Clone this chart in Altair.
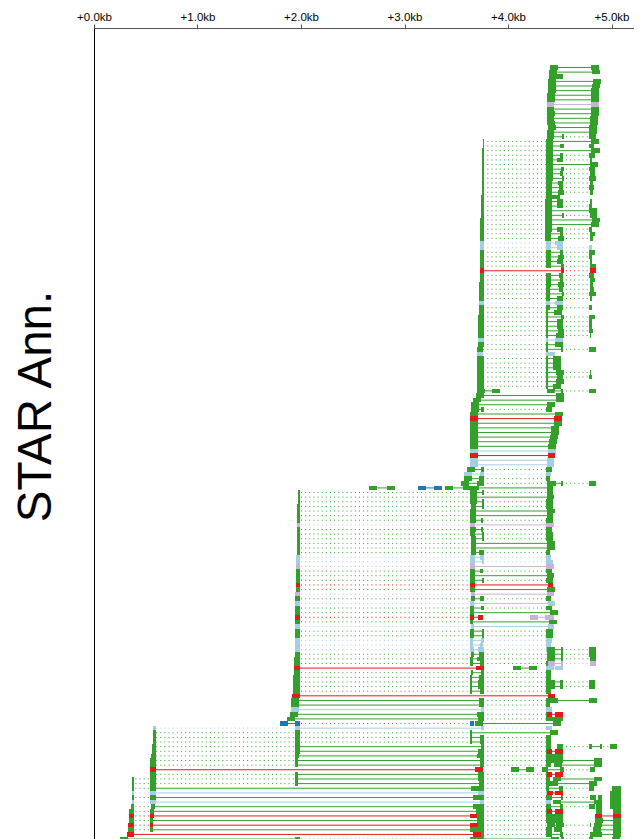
import math
import altair as alt
import pandas as pd

# (row, kind, intron styles, exon start/end pairs in kb)
reads_top = [
 (0,"g","s",[4.400,4.478,4.797,4.874]),(1,"g","s",[4.391,4.468,4.807,4.884]),(2,"g","",[4.391,4.526]),
 (3,"g","s",[4.381,4.458,4.816,4.894]),(4,"g","s",[4.381,4.458,4.807,4.884]),(5,"g","s",[4.381,4.458,4.797,4.874]),
 (6,"g","s",[4.371,4.449,4.797,4.874]),(7,"g","s",[4.371,4.449,4.797,4.874]),(8,"p","s",[4.371,4.439,4.797,4.874]),
 (9,"g","s",[4.371,4.439,4.797,4.874]),(10,"g","s",[4.371,4.449,4.797,4.874]),(11,"g","s",[4.371,4.439,4.787,4.865]),
 (12,"g","s",[4.371,4.449,4.787,4.865]),(13,"g","s",[4.381,4.458,4.778,4.855]),(14,"g","s",[4.371,4.439,4.778,4.855]),
 (15,"g","sd",[4.371,4.439,4.516,4.536,4.778,4.845]),(16,"g","ds",[3.752,3.762,4.362,4.429,4.797,4.874]),
 (17,"g","dsn",[3.752,3.762,4.362,4.429,4.497,4.536,4.778,4.826]),(18,"g","ds",[3.743,3.762,4.362,4.429,4.797,4.884]),
 (19,"g","dsd",[3.743,3.762,4.362,4.429,4.497,4.526,4.778,4.836]),(20,"g","dsd",[3.743,3.762,4.362,4.429,4.468,4.526,4.787,4.807]),
 (21,"g","ds",[3.743,3.762,4.362,4.429,4.787,4.865]),(22,"g","dsd",[3.743,3.762,4.362,4.429,4.507,4.536,4.778,4.836]),
 (23,"g","dsd",[3.743,3.762,4.362,4.429,4.497,4.526,4.787,4.836]),(24,"g","dsd",[3.743,3.762,4.362,4.429,4.516,4.536,4.778,4.845]),
 (25,"g","dsd",[3.743,3.762,4.362,4.420,4.478,4.526,4.787,4.816]),(26,"g","dsd",[3.743,3.762,4.362,4.420,4.487,4.526,4.778,4.826]),
 (27,"g","dsd",[3.743,3.762,4.362,4.420,4.478,4.536,4.787,4.816]),(28,"g","d",[3.733,3.762,4.362,4.497]),
 (29,"g","dsd",[3.733,3.762,4.352,4.420,4.468,4.526,4.787,4.807]),(30,"g","dsd",[3.733,3.762,4.352,4.420,4.468,4.526,4.778,4.807]),
 (31,"g","ds",[3.733,3.762,4.352,4.420,4.778,4.855]),(32,"g","dsd",[3.733,3.762,4.352,4.420,4.516,4.536,4.787,4.855]),
 (33,"g","ds",[3.723,3.762,4.352,4.420,4.807,4.884]),(34,"g","ds",[3.723,3.762,4.352,4.420,4.797,4.874]),
 (35,"g","dsd",[3.723,3.762,4.352,4.420,4.468,4.526,4.778,4.807]),(36,"g","dsd",[3.723,3.762,4.352,4.410,4.497,4.526,4.787,4.836]),
 (37,"g","dsd",[3.723,3.762,4.352,4.410,4.478,4.536,4.787,4.816]),(38,"b","ds",[3.723,3.762,4.362,4.410,4.449,4.526]),
 (39,"b","dsd",[3.723,3.762,4.362,4.410,4.468,4.526,4.778,4.807]),
]
reads_upper = [
 (40,"g","dsd",[3.723,3.762,4.362,4.410,4.497,4.526,4.778,4.836]),(41,"g","dsd",[3.723,3.762,4.362,4.410,4.478,4.536,4.778,4.807]),
 (42,"g","dsd",[3.723,3.762,4.362,4.410,4.468,4.526,4.787,4.807]),(43,"g","dsd",[3.723,3.762,4.362,4.410,4.507,4.536,4.787,4.845]),
 (44,"r","sd",[3.723,3.762,4.507,4.536,4.787,4.845]),(45,"g","dsd",[3.723,3.762,4.362,4.410,4.487,4.526,4.778,4.826]),
 (46,"g","dsd",[3.723,3.762,4.362,4.410,4.497,4.526,4.787,4.836]),(47,"g","dsd",[3.714,3.762,4.362,4.410,4.478,4.536,4.787,4.816]),
 (48,"g","dsd",[3.714,3.762,4.362,4.400,4.487,4.526,4.787,4.826]),(49,"g","dsd",[3.714,3.762,4.362,4.400,4.516,4.536,4.778,4.845]),
 (50,"g","dsd",[3.714,3.762,4.362,4.400,4.468,4.526,4.787,4.807]),(51,"b","ds",[3.714,3.762,4.362,4.400,4.449,4.526]),
 (52,"g","dsd",[3.714,3.762,4.362,4.400,4.468,4.526,4.778,4.807]),(53,"g","ds",[3.714,3.762,4.362,4.381,4.439,4.516]),
 (54,"g","dsd",[3.704,3.762,4.362,4.381,4.507,4.536,4.778,4.836]),(55,"g","dsd",[3.704,3.762,4.362,4.381,4.468,4.526,4.778,4.807]),
 (56,"g","dsd",[3.704,3.762,4.362,4.381,4.468,4.526,4.778,4.807]),(57,"g","dsd",[3.704,3.762,4.362,4.381,4.478,4.536,4.778,4.816]),
 (58,"g","dsd",[3.704,3.762,4.362,4.381,4.458,4.536,4.787,4.797]),(59,"b","ds",[3.704,3.762,4.362,4.381,4.449,4.526]),
 (60,"g","ds",[3.704,3.762,4.362,4.381,4.449,4.526]),(61,"g","dsd",[3.694,3.752,4.362,4.381,4.507,4.526,4.778,4.845]),
 (62,"b","d",[3.694,3.752,4.362,4.449]),(63,"g","ds",[3.694,3.762,4.362,4.381,4.429,4.507]),
 (64,"g","ds",[3.694,3.762,4.362,4.381,4.429,4.507]),(65,"g","ds",[3.694,3.762,4.362,4.381,4.429,4.507]),
 (66,"g","dsd",[3.694,3.762,4.362,4.381,4.458,4.536,4.787,4.797]),(67,"g","dsd",[3.694,3.762,4.362,4.381,4.468,4.526,4.778,4.807]),
 (68,"g","ds",[3.694,3.762,4.362,4.381,4.458,4.536]),(69,"g","ds",[3.694,3.762,4.362,4.381,4.429,4.507]),
 (70,"g","snsd",[3.694,3.772,3.839,3.917,4.371,4.449,4.507,4.526,4.778,4.845]),(71,"g","s",[3.685,3.762,4.458,4.536]),
 (72,"g","s",[3.656,3.733,4.458,4.536]),(73,"g","s",[3.636,3.714,4.371,4.449]),(74,"g","sd",[3.636,3.714,3.733,3.762,4.362,4.420]),
 (75,"g","s",[3.627,3.704,4.449,4.526]),(76,"r","s",[3.627,3.704,4.439,4.516]),(77,"g","s",[3.627,3.704,4.439,4.516]),
 (78,"g","s",[3.627,3.704,4.410,4.487]),(79,"g","s",[3.627,3.704,4.410,4.487]),(80,"g","s",[3.627,3.704,4.400,4.478]),
 (81,"g","s",[3.627,3.704,4.391,4.468]),(82,"g","s",[3.627,3.704,4.381,4.458]),(83,"b","s",[3.627,3.704,4.381,4.458]),
]
reads_middle = [
 (84,"r","s",[3.627,3.704,4.381,4.449]),(85,"b","s",[3.627,3.704,4.371,4.439]),(86,"b","s",[3.627,3.704,4.371,4.439]),
 (87,"g","sd",[3.598,3.675,3.733,3.762,4.362,4.420]),(88,"b","sd",[3.568,3.646,3.723,3.762,4.362,4.410]),
 (89,"g","sd",[3.568,3.646,3.714,3.762,4.362,4.400]),(90,"g","sdsd",[3.539,3.617,3.694,3.762,4.371,4.458,4.507,4.526,4.778,4.845]),
 (91,"g","s",[2.650,2.727,2.824,2.901]),(91,"d","s",[3.124,3.201,3.279,3.356]),(91,"g","ss",[3.385,3.462,3.559,3.714,4.371,4.429]),
 (92,"g","dsd",[1.963,1.983,3.627,3.694,3.743,3.762,4.371,4.429]),(93,"g","ds",[1.963,1.983,3.627,3.694,4.371,4.439]),
 (94,"g","dsd",[1.963,1.983,3.627,3.694,3.743,3.762,4.362,4.429]),(95,"g","dsd",[1.954,1.983,3.636,3.685,3.743,3.762,4.362,4.429]),
 (96,"g","ds",[1.954,1.983,3.627,3.685,4.371,4.449]),(97,"g","ds",[1.954,1.983,3.627,3.685,4.371,4.429]),
 (98,"g","dsd",[1.954,1.983,3.627,3.685,3.733,3.752,4.362,4.429]),(99,"p","ds",[1.954,1.983,3.627,3.675,4.362,4.439]),
 (100,"g","dsd",[1.954,1.983,3.627,3.685,3.733,3.752,4.362,4.420]),(101,"g","dsd",[1.954,1.983,3.627,3.675,3.743,3.762,4.362,4.429]),
 (102,"g","dsd",[1.954,1.983,3.636,3.685,3.743,3.762,4.362,4.429]),(103,"g","ds",[1.954,1.983,3.636,3.685,4.371,4.449]),
 (104,"g","ds",[1.954,1.983,3.636,3.685,4.371,4.449]),(105,"g","dsd",[1.954,1.983,3.636,3.685,3.714,3.762,4.362,4.400]),
 (106,"b","dsd",[1.944,1.983,3.627,3.675,3.723,3.762,4.362,4.410]),(107,"b","dsd",[1.944,1.983,3.627,3.675,3.743,3.762,4.362,4.429]),
 (108,"p","ds",[1.944,1.983,3.627,3.675,4.362,4.439]),(109,"g","dsd",[1.944,1.983,3.627,3.675,3.723,3.752,4.362,4.420]),
 (110,"g","ds",[1.944,1.983,3.627,3.675,4.371,4.439]),(111,"g","dsd",[1.944,1.983,3.627,3.675,3.743,3.762,4.362,4.429]),
 (112,"r","ds",[1.944,1.983,3.627,3.675,4.381,4.429]),(113,"g","ds",[1.944,1.983,3.627,3.675,4.371,4.449]),
 (114,"p","ds",[1.934,1.983,3.636,3.675,4.371,4.439]),(115,"g","dsd",[1.934,1.983,3.636,3.675,3.723,3.762,4.362,4.410]),
 (116,"b","ds",[1.934,1.983,3.627,3.665,4.381,4.449]),(117,"g","dsd",[1.934,1.983,3.627,3.665,3.733,3.762,4.362,4.420]),
 (118,"g","ds",[1.934,1.983,3.627,3.665,4.400,4.478]),(119,"r","ds",[1.934,1.983,3.627,3.665,3.704,3.752]),(119,"p","s",[4.207,4.284,4.352,4.439]),
 (120,"g","ds",[1.934,1.983,3.627,3.656,4.391,4.468]),(121,"b","ds",[1.934,1.983,3.636,3.665,4.381,4.439]),
 (122,"g","dsd",[1.934,1.983,3.627,3.665,3.743,3.762,4.362,4.429]),(123,"g","dsd",[1.934,1.983,3.627,3.665,3.743,3.762,4.362,4.429]),
 (124,"b","dsd",[1.934,1.983,3.627,3.656,3.733,3.762,4.362,4.420]),(125,"b","dsd",[1.934,1.983,3.627,3.656,3.723,3.752,4.362,4.410]),
]
reads_lower = [
 (126,"b","dsd",[1.934,1.983,3.627,3.665,3.704,3.762,4.362,4.371]),(126,"g","sd",[4.371,4.449,4.507,4.526,4.778,4.845]),
 (127,"g","dsdsd",[1.934,1.983,3.636,3.665,3.714,3.762,4.371,4.449,4.507,4.526,4.778,4.845]),
 (128,"g","dsdsd",[1.925,1.983,3.627,3.656,3.694,3.762,4.371,4.449,4.507,4.526,4.787,4.845]),
 (129,"g","dsd",[1.925,1.983,3.627,3.656,3.723,3.762,4.362,4.381]),(129,"p","sd",[4.381,4.449,4.507,4.526,4.787,4.845]),
 (130,"r","s",[1.925,1.983,3.685,3.762]),(130,"g","s",[4.043,4.120,4.197,4.275]),(130,"b","s",[4.362,4.439,4.449,4.526]),
 (131,"g","dsd",[1.925,1.983,3.636,3.656,3.733,3.762,4.362,4.410]),(132,"g","dsd",[1.915,1.983,3.627,3.646,3.714,3.762,4.362,4.410]),
 (133,"g","dsdsd",[1.915,1.983,3.627,3.646,3.704,3.762,4.362,4.449,4.497,4.526,4.778,4.836]),
 (134,"g","dsdsd",[1.915,1.983,3.627,3.646,3.704,3.762,4.362,4.449,4.497,4.526,4.778,4.836]),
 (135,"g","dsd",[1.915,1.983,3.627,3.646,3.723,3.762,4.362,4.410]),(136,"r","s",[1.905,1.983,4.381,4.449]),
 (137,"g","sds",[1.895,1.973,3.714,3.762,4.362,4.478,4.778,4.855]),(138,"g","sd",[1.895,1.973,3.714,3.762,4.362,4.400]),
 (139,"b","sd",[1.895,1.973,3.733,3.762,4.362,4.420]),(140,"g","sd",[1.886,1.963,3.694,3.762,4.362,4.371]),(140,"r","s",[4.371,4.420,4.449,4.526]),
 (141,"g","sd",[1.857,1.934,3.704,3.762,4.362,4.526]),(142,"d","sd",[1.789,1.866,1.934,1.983,3.627,3.665]),(142,"g","s",[3.675,3.752,4.429,4.507]),
 (143,"b","dsd",[0.561,0.590,1.934,1.983,3.733,3.762,4.362,4.420]),(144,"g","dds",[0.561,0.590,1.934,1.983,3.627,3.646,4.400,4.478]),
 (145,"g","ddsd",[0.561,0.590,1.934,1.983,3.627,3.646,3.723,3.762,4.362,4.410]),(146,"g","ddsd",[0.561,0.590,1.934,1.983,3.627,3.646,3.723,3.762,4.362,4.410]),
 (147,"g","dsdndsd",[0.551,0.590,1.934,1.983,3.733,3.762,4.362,4.410,4.468,4.526,4.778,4.807,4.884,4.903,4.981,5.048]),
 (148,"g","dsd",[0.551,0.590,1.934,1.983,3.704,3.762,4.362,4.371]),(148,"r","s",[4.371,4.420,4.449,4.526]),
 (149,"g","dsd",[0.542,0.590,1.934,1.973,3.694,3.762,4.362,4.526]),
 (150,"g","dsds",[0.532,0.590,1.934,1.963,3.723,3.762,4.362,4.526,4.826,4.903]),
 (151,"g","dsdns",[0.532,0.590,1.934,1.963,3.723,3.762,4.362,4.410,4.439,4.516,4.826,4.903]),
 (152,"r","s",[0.532,0.590,3.675,3.752]),(152,"g","s",[4.023,4.101,4.168,4.246]),(152,"g","sd",[4.323,4.381,4.497,4.536,4.787,4.836]),
 (153,"g","dsd",[0.532,0.590,1.934,1.963,3.704,3.762,4.362,4.371]),(153,"r","s",[4.371,4.420,4.449,4.526]),
 (154,"g","ddsdns",[0.358,0.377,0.532,0.590,1.934,1.963,3.704,3.762,4.362,4.400,4.429,4.507,4.826,4.903]),
 (155,"g","ddsds",[0.358,0.377,0.532,0.590,1.934,1.963,3.714,3.762,4.362,4.478,4.778,4.855]),
 (156,"g","dsdsdn",[0.358,0.377,0.532,0.590,3.636,3.762,4.362,4.391,4.487,4.526,4.778,4.826,5.000,5.087]),
 (157,"b","dsd",[0.358,0.377,0.532,0.590,3.704,3.762,4.362,4.371]),(157,"r","s",[4.371,4.429,4.449,4.526]),(157,"g","",[4.981,5.087]),
 (158,"g","dsdsdnn",[0.358,0.377,0.532,0.590,3.656,3.762,4.362,4.420,4.507,4.526,4.787,4.845,4.865,4.903,4.981,5.087]),
 (159,"b","dsd",[0.358,0.377,0.532,0.590,3.723,3.762,4.362,4.410]),(159,"g","sn",[4.429,4.507,4.826,4.903,4.981,5.087]),
 (160,"g","dsdsdnn",[0.348,0.377,0.542,0.580,3.656,3.762,4.362,4.410,4.497,4.526,4.778,4.836,4.845,4.903,4.981,5.087]),
 (161,"g","dsd",[0.329,0.377,0.532,0.571,3.685,3.762,4.362,4.371]),(161,"r","s",[4.371,4.420,4.449,4.526]),(161,"g","n",[4.845,4.903,5.010,5.087]),
 (162,"r","ds",[0.329,0.377,0.532,0.571,3.627,3.704]),(162,"g","d",[3.694,3.762,4.362,4.526]),(162,"r","s",[4.836,4.903,5.010,5.087]),
 (163,"g","dsdns",[0.329,0.377,0.532,0.561,3.694,3.762,4.362,4.526,4.836,4.913,5.010,5.087]),
 (164,"r","ds",[0.319,0.377,0.532,0.561,3.627,3.704]),(164,"g","dsd",[3.704,3.762,4.371,4.449,4.458,4.536,4.787,4.797]),(164,"g","s",[4.826,4.903,5.010,5.087]),
 (165,"g","dsdnns",[0.319,0.377,0.532,0.561,3.627,3.762,4.362,4.420,4.439,4.516,4.816,4.894,5.010,5.087]),
 (166,"r","s",[0.309,0.377,3.656,3.733]),(166,"g","dsds",[3.733,3.762,4.362,4.420,4.497,4.526,4.787,4.903,5.010,5.087]),
 (167,"g","sdsndn",[0.242,0.319,1.934,1.983,3.627,3.762,4.410,4.487,4.507,4.536,4.778,4.816,5.000,5.077]),
]
tick_values = [0, 1, 2, 3, 4, 5]
kinds = ["g", "r", "b", "d", "p"]
colors = ["#33a02c", "#e31a1c", "#a6cee3", "#1f78b4", "#cab2d6"]

PX_PER_KB = 103.5
ROW_PX = 4.62
ROW_OFFSET = 8.05
DOT_STEP_KB = 0.04
DOT_PHASE_KB = 0.0


def snap_x(kb):
    return (round(kb * 103.4) + 1) / PX_PER_KB


def snap_row(r):
    return round((r + ROW_OFFSET) * ROW_PX) / ROW_PX


exon_rows, solid_rows, dot_rows = [], [], []
for row, kind, gaps, ex in reads_top + reads_upper + reads_middle + reads_lower:
    pairs = [(snap_x(ex[i]), snap_x(ex[i + 1])) for i in range(0, len(ex), 2)]
    for a, b in pairs:
        exon_rows.append(dict(kind=kind, x=a, x2=b, y=snap_row(row), y2=snap_row(row + 1)))
    for i, style in enumerate(gaps):
        a, b = pairs[i][1], pairs[i + 1][0]
        yc = row + ROW_OFFSET + 0.5
        if style == "s":
            solid_rows.append(dict(kind=kind, x=a, x2=b, y=yc))
        elif style == "d":
            start = math.ceil((a - DOT_PHASE_KB) / DOT_STEP_KB) * DOT_STEP_KB + DOT_PHASE_KB
            if start < b:
                dot_rows.append(dict(kind=kind, x=start, x2=b, y=yc))

plot_w, plot_h = 540, 811
x_scale = alt.Scale(domain=[0, plot_w / PX_PER_KB], nice=False, zero=False)
y_scale = alt.Scale(domain=[0, plot_h / ROW_PX], nice=False, zero=False, reverse=True)
color = alt.Color("kind:N", scale=alt.Scale(domain=kinds, range=colors), legend=None)

x_axis = alt.Axis(
    orient="top", values=tick_values, labelExpr="format(datum.value,'+.1f')+'kb'", title=None,
    grid=False, tickSize=4, tickColor="#555555", domainColor="#555555", labelColor="#000000",
    labelFont="Liberation Sans", labelFontSize=11.5, labelPadding=2, labelFlush=False,
)
y_axis = alt.Axis(
    orient="left", ticks=False, labels=False, grid=False, domainColor="#000000",
    title="STAR Ann.", titleFont="Liberation Sans", titleFontSize=47.5, titleFontWeight="normal",
    titleColor="#000000", titleAngle=270, titleAlign="center", titleBaseline="alphabetic",
    titleX=-44, titleY=378,
)

solid = alt.Chart(pd.DataFrame(solid_rows)).mark_rule(strokeWidth=1, clip=True).encode(
    x=alt.X("x:Q", scale=x_scale, axis=x_axis), x2="x2:Q",
    y=alt.Y("y:Q", scale=y_scale, axis=y_axis), color=color,
)
dots = alt.Chart(pd.DataFrame(dot_rows)).mark_rule(
    strokeWidth=1, strokeDash=[1, DOT_STEP_KB * PX_PER_KB - 1], clip=True
).encode(x=alt.X("x:Q", scale=x_scale), x2="x2:Q", y=alt.Y("y:Q", scale=y_scale), color=color)
exons = alt.Chart(pd.DataFrame(exon_rows)).mark_rect(clip=True).encode(
    x=alt.X("x:Q", scale=x_scale), x2="x2:Q",
    y=alt.Y("y:Q", scale=y_scale), y2="y2:Q", color=color,
)

chart = (
    alt.layer(solid, dots, exons)
    .properties(
        width=plot_w, height=plot_h, autosize=alt.AutoSizeParams(type="none"),
        padding={"left": 86, "top": 20, "right": 0, "bottom": 0},
    )
    .configure_view(stroke=None)
)
chart.save("out.html", embed_options={"renderer": "svg", "actions": False})
